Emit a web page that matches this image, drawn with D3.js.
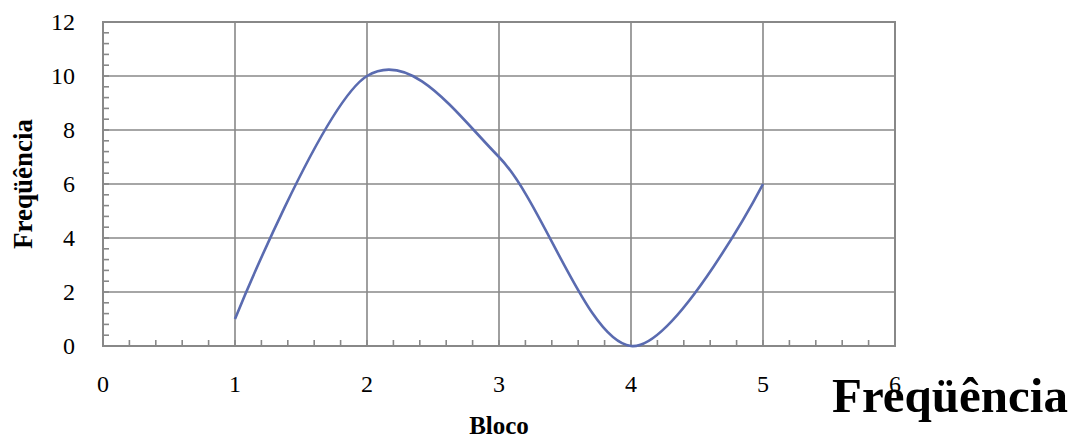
<!DOCTYPE html>
<html><head><meta charset="utf-8">
<script src="https://cdn.jsdelivr.net/npm/d3@7"></script>
<style>html,body{margin:0;padding:0;background:#fff;}svg{display:block;}</style>
</head><body>
<script>
const blocos = [1, 2, 3, 4, 5];
const frequencias = [1, 10, 7, 0, 6];
const xTicks = [0, 1, 2, 3, 4, 5, 6];
const yTicks = [0, 2, 4, 6, 8, 10, 12];
const seriesName = "Freqüência";
const xTitle = "Bloco";
const yTitle = "Freqüência";

const W = 1075, H = 438;
const m = {left: 103, right: 895, top: 22, bottom: 346};
const font = "'Liberation Serif', 'DejaVu Serif', serif";
const grid = "#888";

const svg = d3.select("body").append("svg").attr("width", W).attr("height", H);
const x = d3.scaleLinear().domain([0, 6]).range([m.left, m.right]);
const y = d3.scaleLinear().domain([0, 12]).range([m.bottom, m.top]);

// gridlines
svg.append("g").selectAll("line").data(xTicks.slice(1)).join("line")
  .attr("x1", d => x(d)).attr("x2", d => x(d)).attr("y1", m.top).attr("y2", m.bottom)
  .attr("stroke", grid).attr("stroke-width", 1.6);
svg.append("g").selectAll("line").data(yTicks.slice(1)).join("line")
  .attr("x1", m.left).attr("x2", m.right).attr("y1", d => y(d)).attr("y2", d => y(d))
  .attr("stroke", grid).attr("stroke-width", 1.6);

// minor ticks
const yMinor = d3.range(0, 12.001, 0.4);
svg.append("g").selectAll("line").data(yMinor).join("line")
  .attr("x1", m.left).attr("x2", m.left + 6).attr("y1", d => y(d)).attr("y2", d => y(d))
  .attr("stroke", grid).attr("stroke-width", 1.6);
const xMinor = d3.range(0, 6.001, 0.2);
svg.append("g").selectAll("line").data(xMinor).join("line")
  .attr("x1", d => x(d)).attr("x2", d => x(d)).attr("y1", m.bottom).attr("y2", m.bottom - 6)
  .attr("stroke", grid).attr("stroke-width", 1.6);

// axes box
svg.append("rect").attr("x", m.left).attr("y", m.top)
  .attr("width", m.right - m.left).attr("height", m.bottom - m.top)
  .attr("fill", "none").attr("stroke", grid).attr("stroke-width", 2);

// tick labels
svg.append("g").selectAll("text").data(yTicks).join("text")
  .attr("x", 75).attr("y", d => y(d)).attr("dy", "0.34em")
  .attr("text-anchor", "end").attr("font-family", font).attr("font-size", 24)
  .text(d => d);
svg.append("g").selectAll("text").data(xTicks).join("text")
  .attr("x", d => x(d)).attr("y", 392)
  .attr("text-anchor", "middle").attr("font-family", font).attr("font-size", 24)
  .text(d => d);

// line
const data = blocos.map((b, i) => ({x: b, y: frequencias[i]}));
svg.append("path").datum(data)
  .attr("d", d3.line().x(d => x(d.x)).y(d => y(d.y)).curve(d3.curveCardinal.tension(0)))
  .attr("fill", "none").attr("stroke", "#5A6BB0").attr("stroke-width", 2.6);

// titles
svg.append("text").attr("x", 499).attr("y", 434).attr("text-anchor", "middle")
  .attr("font-family", font).attr("font-weight", "bold").attr("font-size", 25).text(xTitle);
svg.append("text").attr("transform", "translate(32,184) rotate(-90)").attr("text-anchor", "middle")
  .attr("font-family", font).attr("font-weight", "bold").attr("font-size", 27).text(yTitle);

// legend
svg.append("text").attr("x", 832).attr("y", 412)
  .attr("font-family", font).attr("font-weight", "bold").attr("font-size", 49).text(seriesName);
</script>
</body></html>
